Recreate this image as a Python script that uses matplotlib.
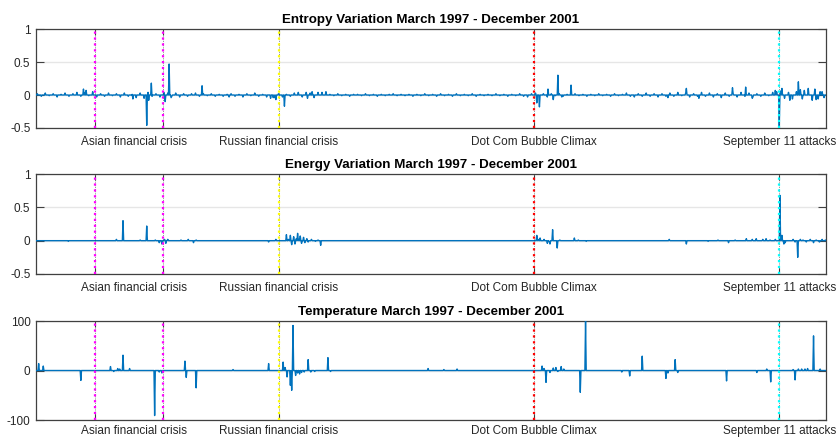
import numpy as np
import matplotlib
matplotlib.use("Agg")
from matplotlib import pyplot as plt

plt.rcParams['font.family'] = ['Liberation Sans', 'DejaVu Sans']
plt.rcParams['axes.unicode_minus'] = False

# trading days from March 1997 to December 2001
N_DAYS = 1200

# event days, colours and tick labels
event_days = [90, 193, 369, 756, 1129]
event_colors = ['#ff00ff', '#ff00ff', '#ffff00', '#ff0000', '#00ffff']
tick_days = [90, 150, 193, 369, 756, 1129]
tick_names = ['', 'Asian financial crisis', '', 'Russian financial crisis',
              'Dot Com Bubble Climax', 'September 11 attacks']

titles = ['Entropy Variation March 1997 - December 2001',
          'Energy Variation March 1997 - December 2001',
          'Temperature March 1997 - December 2001']

# entropy: small day-to-day wiggle, one value every 6 days starting at day 3
entropy_wiggle = [
    0.02, -0.02, 0.03, -0.01, 0.02, -0.03, 0.01, 0.03, -0.02, 0.02,
    0.04, -0.02, 0.03, -0.01, 0.05, -0.03, 0.02, -0.02, 0.03, -0.01,
    0.02, -0.03, 0.03, -0.02, 0.01, -0.04, 0.03, -0.05, 0.04, -0.02,
    0.02, -0.03, 0.04, 0.03, -0.02, 0.03, -0.03, 0.02, -0.02, 0.02,
    0.03, -0.02, 0.02, -0.01, 0.02, -0.02, 0.01, -0.02, 0.01, 0.02,
    -0.02, 0.01, -0.03, 0.02, -0.01, 0.03, -0.02, 0.01, -0.03, 0.02,
    -0.04, 0.02, -0.03, 0.01, -0.02, 0.03,
    0.04, -0.03, 0.05, 0.03, -0.04, 0.04, 0.03, -0.02,
    0.01, -0.01, 0.02, -0.01, 0.01, -0.02, 0.01, 0.01, -0.01, 0.02,
    -0.01, 0.01, -0.02, 0.01, -0.01, 0.01, 0.02, -0.01, 0.01, -0.01,
    0.01, -0.02, 0.01, -0.01, 0.02, -0.01, 0.01, -0.02, 0.02, -0.01,
    0.01, -0.02, 0.02, -0.01, 0.01, -0.01, 0.02, -0.02, 0.01, -0.01,
    0.01, -0.01, 0.02, -0.01, 0.01, -0.02, 0.01, -0.01, 0.02, -0.02, -0.03, 0.02,
    0.03, -0.02, 0.02, -0.03, 0.02, -0.01, 0.02, -0.02, 0.01, -0.01,
    0.02, -0.01, 0.01, -0.02, 0.01, -0.01, 0.02, -0.01, 0.01, -0.02,
    0.02, -0.01, 0.01, 0.03, -0.02, -0.03, 0.02, -0.02, 0.03, -0.02,
    0.02, -0.03, 0.02, -0.02, 0.03, -0.02, 0.04, -0.01, 0.03, -0.03,
    0.02, -0.02, 0.04, -0.02, 0.03, -0.03, 0.02, -0.04, 0.03, -0.02,
    0.02, -0.03, 0.04, -0.02, 0.03, -0.03, 0.02, -0.02, 0.03, -0.01, 0.04, 0.05,
    0.06, -0.05, 0.04, -0.06, 0.05, -0.04, 0.07, -0.05, 0.06, -0.07, 0.05, -0.04,
]

# entropy: larger moves (day, value)
entropy_days = [73, 77, 148, 169, 172, 176, 197, 203, 206, 253, 294, 357, 361,
                365, 378, 411, 413, 420, 435, 441, 761, 765, 778, 786, 793,
                799, 813, 960, 988, 1007, 1058, 1078, 1088, 1123, 1129, 1133,
                1145, 1158, 1161, 1164, 1173, 1179, 1183, 1188, 1194]
entropy_vals = [0.09, 0.07, -0.06, -0.46, -0.08, 0.18, -0.10, 0.47, -0.04, 0.14,
                -0.03, -0.05, -0.04, -0.07, -0.17, 0.04, -0.05, 0.05, 0.04, 0.05,
                -0.12, -0.18, 0.09, -0.07, 0.30, -0.03, 0.15, -0.04, 0.10, -0.05,
                0.11, 0.12, -0.05, 0.07, -0.48, 0.10, -0.08, 0.20, 0.08, -0.06,
                0.10, -0.08, 0.09, -0.06, 0.05]

# energy (day, value)
energy_days = [50, 123, 133, 159, 169, 182, 188, 192, 196, 198, 201, 221, 232,
               240, 244, 354, 365, 381, 384, 387, 389, 392, 394, 396, 398, 400,
               402, 404, 407, 409, 412, 414, 419, 425, 429, 433,
               761, 763, 766, 772, 777, 780, 781, 785, 789, 792, 796, 818, 824,
               836, 962, 988, 1021, 1036, 1052, 1062, 1079, 1088, 1094, 1104,
               1109, 1115, 1123, 1130, 1133, 1136, 1138, 1150, 1153, 1157, 1161,
               1165, 1170, 1176, 1181, 1185, 1190, 1194, 1199]
energy_vals = [-0.01, 0.02, 0.30, 0.01, 0.22, 0.01, -0.03, -0.05, 0.02, -0.04,
               0.02, 0.01, 0.02, -0.03, 0.01, -0.02, 0.02, 0.09, 0.02, 0.08,
               -0.06, 0.06, -0.05, 0.03, 0.11, 0.02, 0.07, -0.04, 0.05, -0.03,
               0.03, -0.02, 0.02, -0.01, 0.01, -0.07,
               0.08, 0.02, 0.04, 0.02, -0.04, -0.02, -0.05, 0.165, 0.0, -0.11,
               0.01, 0.04, 0.01, -0.01, 0.02, -0.05, -0.01, 0.01, -0.03, 0.01,
               0.03, 0.02, 0.03, 0.02, 0.03, 0.01, 0.02, 0.68, 0.08, -0.05,
               -0.03, 0.02, -0.02, -0.25, 0.02, 0.01, -0.02, 0.02, -0.03, 0.01,
               -0.02, 0.02, 0.01]

# temperature (day, value)
temp_days = [5, 12, 69, 114, 119, 125, 128, 133, 143, 181, 188, 192, 227, 229,
             244, 300, 354, 376, 379, 382, 387, 389, 391, 395, 398, 401, 404,
             408, 414, 418, 424, 444, 448, 596, 620, 640,
             769, 772, 775, 781, 786, 790, 793, 798, 802, 827, 835, 890, 902,
             921, 957, 960, 971, 975, 1049, 1095, 1110, 1116, 1150, 1153, 1158,
             1163, 1168, 1172, 1181, 1191]
temp_vals = [14, 9, -20, 8, -2, 4, 3, 31, 4, -91, -3, -5, 19, -14,
             -35, 2, 14, 17, 6, -13, -30, -40, 91, -10, -5, -7, -4,
             -3, 22, -3, -2, 26, -2, 4, 2, 3,
             9, 4, -24, -4, 5, 6, -2, 8, 3, -44, 100, -3, -11,
             29, -16, -5, 22, -4, -21, -4, 3, -23, 2, -19, 3,
             3, 3, 4, 70, 3]


def daily_series(days, vals):
    s = np.zeros(N_DAYS)
    s[np.array(days) - 1] = vals
    return s


def main():
    x = np.arange(1, N_DAYS + 1)

    entropy = daily_series(days=np.arange(3, 3 + 6 * len(entropy_wiggle), 6),
                           vals=entropy_wiggle)
    entropy[np.array(entropy_days) - 1] = entropy_vals
    energy = daily_series(energy_days, energy_vals)
    temp = daily_series(temp_days, temp_vals)

    series = [entropy, energy, temp]
    yticks = [[-0.5, 0, 0.5, 1], [-0.5, 0, 0.5, 1], [-100, 0, 100]]
    ylims = [(-0.5, 1), (-0.5, 1), (-100, 100)]
    label_pads = [6, 6, 3.5]  # bottom row sits right at the figure edge

    fig = plt.figure(figsize=(8.36, 4.37), dpi=100)
    boxes = [[0.0431, 0.7071, 0.945, 0.2265],
             [0.0431, 0.3730, 0.945, 0.2288],
             [0.0431, 0.0389, 0.945, 0.2265]]

    for i in range(3):
        ax = fig.add_axes(boxes[i])
        ax.plot(x, series[i], color='#0072bd', lw=1.0, zorder=3)

        # event markers
        for d, c in zip(event_days, event_colors):
            ax.axvline(d, color='#333333', ls=':', lw=0.5, zorder=4)
            ax.axvline(d, color=c, ls=':', lw=1.6, zorder=5)

        ax.set_xlim(1, N_DAYS)
        ax.set_ylim(*ylims[i])
        ax.set_yticks(yticks[i])
        ax.set_yticklabels([f"{v:g}" for v in yticks[i]])
        ax.yaxis.grid(True, color='#e6e6e6', lw=1.0, zorder=0)
        ax.set_axisbelow(True)

        ax.set_xticks(tick_days)
        ax.set_xticklabels(tick_names)
        ax.tick_params(axis='x', direction='in', length=4, top=True,
                       pad=label_pads[i], labelsize=8.5, color='#404040',
                       labelcolor='#262626')
        # the Asian label sits between its two event lines, no tick mark there
        for t in ax.xaxis.get_major_ticks():
            if t.get_loc() == 150:
                t.tick1line.set_visible(False)
                t.tick2line.set_visible(False)
        ax.tick_params(axis='y', direction='in', length=6, right=True,
                       labelsize=8.5, pad=4, color='#404040', labelcolor='#262626')

        for sp in ax.spines.values():
            sp.set_color('#404040')
            sp.set_linewidth(0.9)

        ax.set_title(titles[i], fontsize=9.6, fontweight='bold', pad=4)

    fig.savefig("out.png", dpi=100)


if __name__ == "__main__":
    main()
